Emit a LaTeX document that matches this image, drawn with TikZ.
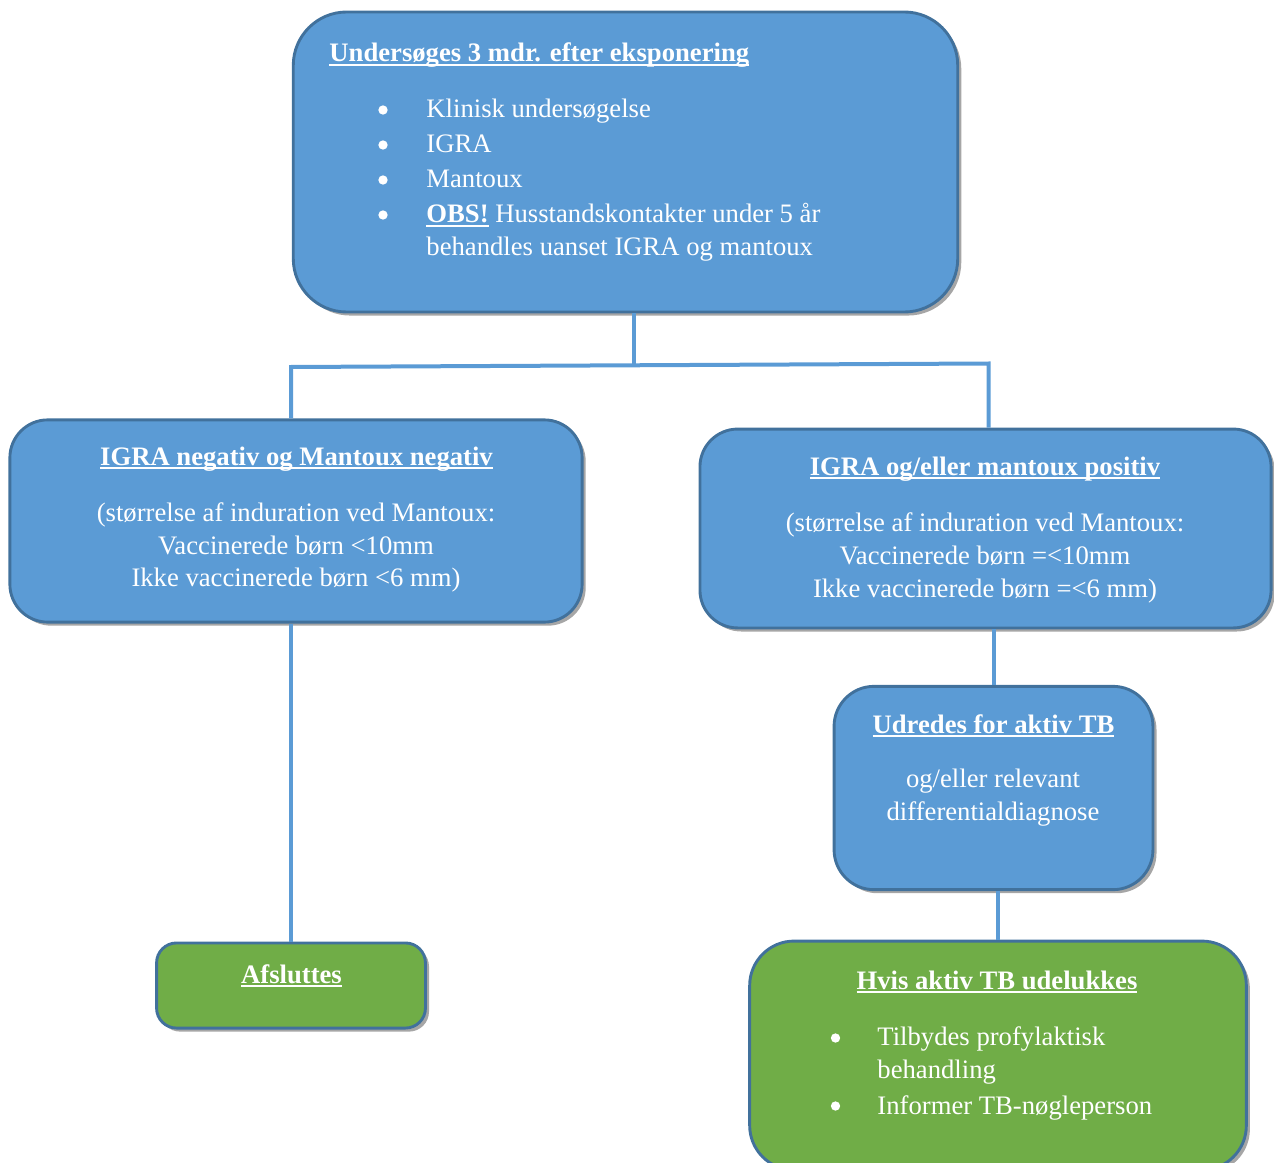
\documentclass[tikz,border=0pt]{standalone}
\usepackage{fontspec}
\setmainfont{Liberation Serif}
\usetikzlibrary{shadows}

\definecolor{boksblaa}{HTML}{5B9BD5}
\definecolor{boksgroen}{HTML}{70AD47}
\definecolor{boksrand}{HTML}{41719C}

\newsavebox{\ubox}
\newcommand{\understreg}[1]{\sbox{\ubox}{#1}\rlap{\rule[-1.6pt]{\wd\ubox}{0.7pt}}\usebox{\ubox}}

\tikzset{
  boks/.style={draw=boksrand, line width=1.3pt, fill=boksblaa, rounded corners=#1,
    drop shadow={shadow xshift=1.6pt, shadow yshift=-1.6pt, opacity=.35, fill=black}},
  gboks/.style={boks=#1, fill=boksgroen},
  linje/.style={draw=boksblaa, line width=1.8pt},
  tekst/.style={text=white, inner sep=0pt, anchor=base, font=\fontsize{12}{14}\selectfont},
  titel/.style={tekst, font=\fontsize{12}{14}\selectfont\bfseries},
  punkt/.style={circle, fill=white, inner sep=0pt, minimum size=4.2pt},
}

\begin{document}
\begin{tikzpicture}[x=0.45pt,y=-0.45pt]
    \path[use as bounding box] (0,0) rectangle (1274,1162);
    \clip (0,0) rectangle (1274,1162);

    % kasser
    \node[boks=24pt, minimum width=299pt, minimum height=135pt] (undersoeg) at (625.5,162) {};
    \node[boks=17pt, minimum width=257.5pt, minimum height=91pt] (negativ) at (296,521) {};
    \node[boks=17pt, minimum width=257pt, minimum height=89.5pt] (positiv) at (985.5,528.5) {};
    \node[boks=18pt, minimum width=143.5pt, minimum height=91.5pt] (udredes) at (993.5,788) {};
    \node[gboks=9pt, minimum width=121pt, minimum height=38.3pt] (afslut) at (291,985.5) {};
    \node[gboks=20pt, minimum width=223.5pt, minimum height=103pt] (udeluk) at (998,1055.5) {};

    % forbindelser
    \coordinate (deling) at (634,365);
    \coordinate (venstre) at (291,367);
    \coordinate (hoejre) at (988.5,363.5);
    \draw[linje] (deling |- undersoeg.south) -- (deling);
    \draw[linje] (venstre |- negativ.north) -- (venstre) -- (hoejre) -- (hoejre |- positiv.north);
    \draw[linje] (venstre |- negativ.south) -- (venstre |- afslut.north);
    \draw[linje] (udredes.north |- positiv.south) -- (udredes.north);
    \draw[linje] (udeluk.north |- udredes.south) -- (udeluk.north);

    % tekst i topkassen
    \node[titel, anchor=base west] (toptitel) at (329,62) {\understreg{Undersøges 3 mdr. efter eksponering}};
    \node[punkt] (b1) at (383,110) {};
    \node[punkt] (b2) at (383,145) {};
    \node[punkt] (b3) at (383,180) {};
    \node[punkt] (b4) at (383,215) {};
    \node[tekst, anchor=base west] (p1) at (426,118) {Klinisk undersøgelse};
    \node[tekst, anchor=base west] (p2) at (426,153) {IGRA};
    \node[tekst, anchor=base west] (p3) at (426,188) {Mantoux};
    \node[tekst, anchor=base west] (p4) at (426,223) {\understreg{\textbf{OBS!}} Husstandskontakter under 5 år};
    \node[tekst, anchor=base west] (p5) at (426,256) {behandles uanset IGRA og mantoux};

    % negativ
    \node[titel] (negtitel) at (296.5,465) {\understreg{IGRA negativ og Mantoux negativ}};
    \node[tekst] (neg1) at (296,521) {(størrelse af induration ved Mantoux:};
    \node[tekst] (neg2) at (296,554) {Vaccinerede børn <10mm};
    \node[tekst] (neg3) at (296,586) {Ikke vaccinerede børn <6 mm)};

    % positiv
    \node[titel] (postitel) at (985,475) {\understreg{IGRA og/eller mantoux positiv}};
    \node[tekst] (pos1) at (985,531) {(størrelse af induration ved Mantoux:};
    \node[tekst] (pos2) at (985,564) {Vaccinerede børn =<10mm};
    \node[tekst] (pos3) at (985,597) {Ikke vaccinerede børn =<6 mm)};

    % udredning
    \node[titel] (udtitel) at (993.5,733) {\understreg{Udredes for aktiv TB}};
    \node[tekst] (ud1) at (993,787) {og/eller relevant};
    \node[tekst] (ud2) at (993,820) {differentialdiagnose};

    % afslutning
    \node[titel] (afstitel) at (291.5,983) {\understreg{Afsluttes}};

    % aktiv TB udelukket
    \node[titel] (deltitel) at (997,989) {\understreg{Hvis aktiv TB udelukkes}};
    \node[punkt] (b5) at (835.5,1038) {};
    \node[punkt] (b6) at (835.5,1106) {};
    \node[tekst, anchor=base west] (del1) at (877,1045) {Tilbydes profylaktisk};
    \node[tekst, anchor=base west] (del2) at (877,1078) {behandling};
    \node[tekst, anchor=base west] (del3) at (877,1114) {Informer TB-nøgleperson};
\end{tikzpicture}
\end{document}
